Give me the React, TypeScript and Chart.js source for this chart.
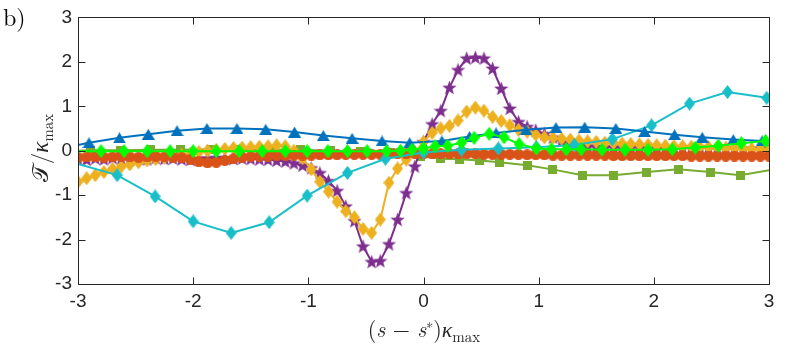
import React, { useEffect, useRef } from "react";
import { Chart, registerables } from "chart.js";

Chart.register(...registerables);

// ---------- data ----------
const xTickValues = [-3, -2, -1, 0, 1, 2, 3];
const yTickValues = [-3, -2, -1, 0, 1, 2, 3];

// blue triangles
const blueS = [-3, -2.905, -2.64, -2.39, -2.14, -1.88, -1.62, -1.37, -1.12, -0.87, -0.62, -0.36, -0.12, 0.16, 0.4, 0.63, 0.89, 1.15, 1.4, 1.67, 1.92, 2.18, 2.42, 2.69, 2.94, 3];
const blueT = [0.13, 0.18, 0.29, 0.37, 0.45, 0.5, 0.5, 0.48, 0.42, 0.34, 0.28, 0.22, 0.18, 0.22, 0.32, 0.4, 0.47, 0.52, 0.53, 0.5, 0.43, 0.36, 0.3, 0.25, 0.22, 0.21];

// cyan diamonds
const cyanS = [-3, -2.66, -2.33, -2.0, -1.67, -1.34, -1.01, -0.66, -0.33, 0.0, 0.33, 0.65, 0.98, 1.31, 1.64, 1.98, 2.31, 2.64, 2.98];
const cyanT = [-0.3, -0.55, -1.03, -1.59, -1.85, -1.61, -1.01, -0.5, -0.18, -0.04, 0.02, 0.05, 0.08, 0.13, 0.26, 0.57, 1.06, 1.32, 1.19];

// olive squares
const oliveS = [-3, -2.89, -2.63, -2.37, -2.11, -1.85, -1.59, -1.33, -1.07, -0.81, -0.55, -0.29, -0.03, 0.15, 0.31, 0.49, 0.66, 0.9, 1.12, 1.38, 1.65, 1.94, 2.21, 2.49, 2.75, 3.0];
const oliveT = [0.0, 0.01, 0.01, 0.02, 0.02, 0.03, 0.02, 0.02, 0.02, 0.0, -0.02, -0.05, -0.12, -0.18, -0.19, -0.22, -0.26, -0.33, -0.42, -0.55, -0.55, -0.48, -0.42, -0.48, -0.55, -0.44];

// bright green diamonds
const greenS = [-3, -2.8, -2.6, -2.4, -2.2, -2.0, -1.8, -1.6, -1.4, -1.2, -1.01, -0.83, -0.66, -0.49, -0.32, -0.2, -0.1, 0.0, 0.1, 0.21, 0.33, 0.44, 0.57, 0.7, 0.83, 0.98, 1.11, 1.24, 1.37, 1.55, 1.75, 1.95, 2.16, 2.36, 2.56, 2.76, 2.97];
const greenT = [-0.01, -0.01, -0.01, -0.01, -0.01, -0.01, -0.01, -0.01, -0.01, -0.01, -0.01, -0.01, -0.01, -0.01, -0.01, 0.0, 0.02, 0.05, 0.1, 0.11, 0.18, 0.29, 0.38, 0.3, 0.15, 0.05, 0.03, 0.03, 0.03, 0.02, 0.02, 0.02, 0.03, 0.07, 0.11, 0.17, 0.22];

// densely sampled series (shared abscissa)
const denseS = [
  -3, -2.925, -2.85, -2.775, -2.7, -2.625, -2.55, -2.475, -2.4, -2.325,
  -2.25, -2.175, -2.1, -2.025, -1.95, -1.875, -1.8, -1.725, -1.65, -1.575,
  -1.5, -1.425, -1.35, -1.275, -1.2, -1.125, -1.05, -0.975, -0.9, -0.825,
  -0.75, -0.675, -0.6, -0.525, -0.45, -0.375, -0.3, -0.225, -0.15, -0.075,
  0, 0.075, 0.15, 0.225, 0.3, 0.375, 0.45, 0.525, 0.6, 0.675,
  0.75, 0.825, 0.9, 0.975, 1.05, 1.125, 1.2, 1.275, 1.35, 1.425,
  1.5, 1.575, 1.65, 1.725, 1.8, 1.875, 1.95, 2.025, 2.1, 2.175,
  2.25, 2.325, 2.4, 2.475, 2.55, 2.625, 2.7, 2.775, 2.85, 2.925,
  3,
];
const yellowT = [
  -0.7, -0.62, -0.55, -0.48, -0.41, -0.36, -0.31, -0.26, -0.22, -0.19,
  -0.16, -0.13, -0.1, -0.07, -0.03, 0.0, 0.02, 0.04, 0.06, 0.07,
  0.08, 0.09, 0.1, 0.12, 0.1, 0.0, -0.17, -0.42, -0.7, -0.92,
  -1.15, -1.36, -1.5, -1.76, -1.85, -1.55, -0.72, -0.4, -0.2, -0.03,
  0.2, 0.4, 0.5, 0.56, 0.68, 0.88, 0.97, 0.9, 0.76, 0.67,
  0.57, 0.47, 0.43, 0.36, 0.3, 0.29, 0.27, 0.25, 0.23, 0.21,
  0.2, 0.18, 0.17, 0.16, 0.15, 0.14, 0.13, 0.12, 0.11, 0.1,
  0.1, 0.09, 0.08, 0.08, 0.07, 0.06, 0.05, 0.05, 0.04, 0.03,
  0.02,
];
const purpleT = [
  -0.18, -0.2, -0.17, -0.19, -0.16, -0.18, -0.2, -0.17, -0.19, -0.16,
  -0.18, -0.17, -0.19, -0.2, -0.18, -0.17, -0.16, -0.17, -0.18, -0.17,
  -0.18, -0.19, -0.2, -0.22, -0.24, -0.28, -0.33, -0.39, -0.5, -0.68,
  -0.9, -1.25, -1.58, -2.15, -2.5, -2.48, -2.1, -1.55, -0.95, -0.35,
  0.2, 0.6, 0.9, 1.42, 1.82, 2.08, 2.1, 2.08, 1.85, 1.4,
  0.95, 0.65, 0.54, 0.46, 0.38, 0.3, 0.22, 0.16, 0.12, 0.1,
  0.09, 0.08, 0.08, 0.07, 0.07, 0.08, 0.07, 0.07, 0.06, 0.07,
  0.06, 0.06, 0.07, 0.06, 0.05, 0.06, 0.05, 0.05, 0.04, 0.05,
  0.04,
];
const redT = [
  -0.15, -0.14, -0.14, -0.15, -0.14, -0.13, -0.14, -0.15, -0.14, -0.13,
  -0.14, -0.15, -0.16, -0.19, -0.25, -0.27, -0.26, -0.22, -0.18, -0.15,
  -0.13, -0.12, -0.12, -0.11, -0.11, -0.1, -0.1, -0.1, -0.09, -0.09,
  -0.09, -0.08, -0.08, -0.08, -0.08, -0.08, -0.07, -0.07, -0.07, -0.07,
  -0.07, -0.07, -0.07, -0.07, -0.07, -0.07, -0.07, -0.08, -0.08, -0.08,
  -0.08, -0.08, -0.09, -0.09, -0.09, -0.1, -0.1, -0.1, -0.1, -0.1,
  -0.1, -0.1, -0.11, -0.11, -0.11, -0.11, -0.11, -0.11, -0.11, -0.11,
  -0.11, -0.12, -0.12, -0.12, -0.12, -0.12, -0.12, -0.12, -0.12, -0.12,
  -0.12,
];

// ---------- colours ----------
const C_BLUE = "#0072BD";
const C_RED = "#D95319";
const C_YELLOW = "#EDB120";
const C_PURPLE = "#7E2F8E";
const C_OLIVE = "#77AC30";
const C_CYAN = "#19BFC8";
const C_GREEN = "#00FF00";
const C_AXIS = "#262626";

function makeMarker(kind: string, color: string, w: number, h: number) {
  const c = document.createElement("canvas");
  c.width = w;
  c.height = h;
  const g = c.getContext("2d")!;
  g.fillStyle = color;
  g.beginPath();
  if (kind === "diamond") {
    g.moveTo(w / 2, 0);
    g.lineTo(w, h / 2);
    g.lineTo(w / 2, h);
    g.lineTo(0, h / 2);
    g.closePath();
  } else if (kind === "triangle") {
    g.moveTo(w / 2, 0);
    g.lineTo(w, h);
    g.lineTo(0, h);
    g.closePath();
  } else if (kind === "square") {
    g.rect(0, 0, w, h);
  } else if (kind === "circle") {
    g.arc(w / 2, h / 2, w / 2, 0, Math.PI * 2);
  } else if (kind === "star") {
    for (let i = 0; i < 10; i++) {
      const r = i % 2 === 0 ? w / 2 : (w / 2) * 0.42;
      const a = -Math.PI / 2 + (i * Math.PI) / 5;
      const px = w / 2 + r * Math.cos(a);
      const py = h / 2 + 0.6 + r * Math.sin(a);
      if (i === 0) g.moveTo(px, py);
      else g.lineTo(px, py);
    }
    g.closePath();
  }
  g.fill();
  return c;
}

function pts(xs: number[], ys: number[]) {
  return xs.map((x, i) => ({ x, y: ys[i] }));
}

function vis(n: number, hideFirst: boolean, hideLast: boolean) {
  return Array.from({ length: n }, (_, i) =>
    (hideFirst && i === 0) || (hideLast && i === n - 1) ? 0 : 6
  );
}

const framePlugin = {
  id: "matlabFrame",
  afterDraw(chart: any) {
    const { ctx, chartArea } = chart;
    const { left, right, top, bottom } = chartArea;
    const xs = chart.scales.x;
    const ys = chart.scales.y;
    ctx.save();
    ctx.strokeStyle = C_AXIS;
    ctx.lineWidth = 1;
    ctx.beginPath();
    const L = Math.round(left) + 0.5;
    const R = Math.round(right) + 0.5;
    const T = Math.round(top) + 0.5;
    const B = Math.round(bottom) + 0.5;
    ctx.rect(L, T, R - L, B - T);
    const tl = 7;
    xTickValues.forEach((v) => {
      const px = Math.round(xs.getPixelForValue(v)) + 0.5;
      ctx.moveTo(px, B);
      ctx.lineTo(px, B - tl);
      ctx.moveTo(px, T);
      ctx.lineTo(px, T + tl);
    });
    yTickValues.forEach((v) => {
      const py = Math.round(ys.getPixelForValue(v)) + 0.5;
      ctx.moveTo(L, py);
      ctx.lineTo(L + tl, py);
      ctx.moveTo(R, py);
      ctx.lineTo(R - tl, py);
    });
    ctx.stroke();
    ctx.restore();
  },
};

export default function App() {
  const ref = useRef<HTMLCanvasElement | null>(null);

  useEffect(() => {
    if (!ref.current) return;
    const mTri = makeMarker("triangle", C_BLUE, 13, 11);
    const mCyan = makeMarker("diamond", C_CYAN, 11, 14);
    const mYellow = makeMarker("diamond", C_YELLOW, 11, 14);
    const mGreen = makeMarker("diamond", C_GREEN, 11, 14);
    const mSquare = makeMarker("square", C_OLIVE, 9, 9);
    const mCircle = makeMarker("circle", C_RED, 11, 11);
    const mStar = makeMarker("star", C_PURPLE, 15, 15);

    const base = {
      showLine: true,
      tension: 0,
      fill: false,
      pointBorderWidth: 0,
      pointHoverRadius: 0,
    };

    const chart = new Chart(ref.current, {
      type: "scatter",
      data: {
        datasets: [
          {
            ...base,
            label: "olive",
            data: pts(oliveS, oliveT),
            borderColor: C_OLIVE,
            backgroundColor: C_OLIVE,
            borderWidth: 2,
            pointStyle: mSquare,
            pointRadius: vis(oliveS.length, true, true),
            order: 7,
          },
          {
            ...base,
            label: "purple",
            data: pts(denseS, purpleT),
            borderColor: C_PURPLE,
            backgroundColor: C_PURPLE,
            borderWidth: 2,
            pointStyle: mStar,
            pointRadius: vis(denseS.length, false, false),
            order: 6,
          },
          {
            ...base,
            label: "yellow",
            data: pts(denseS, yellowT),
            borderColor: C_YELLOW,
            backgroundColor: C_YELLOW,
            borderWidth: 2,
            pointStyle: mYellow,
            pointRadius: vis(denseS.length, false, false),
            order: 5,
          },
          {
            ...base,
            label: "red",
            data: pts(denseS, redT),
            borderColor: C_RED,
            backgroundColor: C_RED,
            borderWidth: 2,
            pointStyle: mCircle,
            pointRadius: vis(denseS.length, false, false),
            order: 4,
          },
          {
            ...base,
            label: "cyan",
            data: pts(cyanS, cyanT),
            borderColor: C_CYAN,
            backgroundColor: C_CYAN,
            borderWidth: 2,
            pointStyle: mCyan,
            pointRadius: vis(cyanS.length, true, false),
            order: 3,
          },
          {
            ...base,
            label: "blue",
            data: pts(blueS, blueT),
            borderColor: C_BLUE,
            backgroundColor: C_BLUE,
            borderWidth: 2,
            pointStyle: mTri,
            pointRadius: vis(blueS.length, true, true),
            order: 2,
          },
          {
            ...base,
            label: "green",
            data: pts(greenS, greenT),
            borderColor: C_GREEN,
            backgroundColor: C_GREEN,
            borderWidth: 2,
            pointStyle: mGreen,
            pointRadius: vis(greenS.length, true, false),
            order: 1,
          },
        ],
      },
      options: {
        responsive: false,
        animation: false,
        events: [],
        layout: { padding: { top: 12, right: 20, left: 0, bottom: 0 } },
        plugins: {
          legend: { display: false },
          tooltip: { enabled: false },
        },
        scales: {
          x: {
            type: "linear",
            min: -3,
            max: 3,
            afterFit: (s: any) => {
              s.height = 61;
            },
            afterBuildTicks: (s: any) => {
              s.ticks = xTickValues.map((v) => ({ value: v }));
            },
            grid: { display: false, drawTicks: false },
            border: { display: false },
            ticks: {
              padding: 6,
              color: C_AXIS,
              font: { family: "'Liberation Sans', Arial, sans-serif", size: 19 },
              callback: (v: any) => String(v),
              maxRotation: 0,
            },
          },
          y: {
            type: "linear",
            min: -3,
            max: 3,
            afterFit: (s: any) => {
              s.width = 78;
            },
            afterBuildTicks: (s: any) => {
              s.ticks = yTickValues.map((v) => ({ value: v }));
            },
            grid: { display: false, drawTicks: false },
            border: { display: false },
            ticks: {
              padding: 6,
              color: C_AXIS,
              font: { family: "'Liberation Sans', Arial, sans-serif", size: 19 },
              callback: (v: any) => String(v),
            },
          },
        },
      },
      plugins: [framePlugin],
    } as any);

    return () => chart.destroy();
  }, []);

  const serif = "'Latin Modern Roman', 'CMU Serif', 'Liberation Serif', 'DejaVu Serif', serif";

  return (
    <div
      style={{
        position: "fixed",
        left: 0,
        top: 0,
        width: 789,
        height: 345,
        background: "#fff",
        overflow: "hidden",
      }}
    >
      <canvas ref={ref} width={789} height={345} style={{ position: "absolute", left: 0, top: 0 }} />
      <div
        style={{
          position: "absolute",
          left: 3,
          top: -1,
          fontFamily: serif,
          fontSize: 24,
          color: "#000",
        }}
      >
        b)
      </div>
      <div
        style={{
          position: "absolute",
          left: 38,
          top: 148,
          transform: "translate(-50%, -50%) rotate(-90deg)",
          whiteSpace: "nowrap",
          fontFamily: serif,
          fontSize: 23,
          color: C_AXIS,
        }}
      >
        <span>𝒯</span>
        <span>/</span>
        <i>κ</i>
        <span style={{ fontSize: 15, position: "relative", top: 5 }}>max</span>
      </div>
      <div
        style={{
          position: "absolute",
          left: 424,
          top: 327,
          transform: "translate(-50%, -50%)",
          whiteSpace: "nowrap",
          fontFamily: serif,
          fontSize: 22,
          color: C_AXIS,
        }}
      >
        <span>(</span>
        <i>s</i>
        <span> − </span>
        <i>s</i>
        <span style={{ fontSize: 14, position: "relative", top: -8 }}>∗</span>
        <span>)</span>
        <i>κ</i>
        <span style={{ fontSize: 15, position: "relative", top: 5 }}>max</span>
      </div>
    </div>
  );
}
